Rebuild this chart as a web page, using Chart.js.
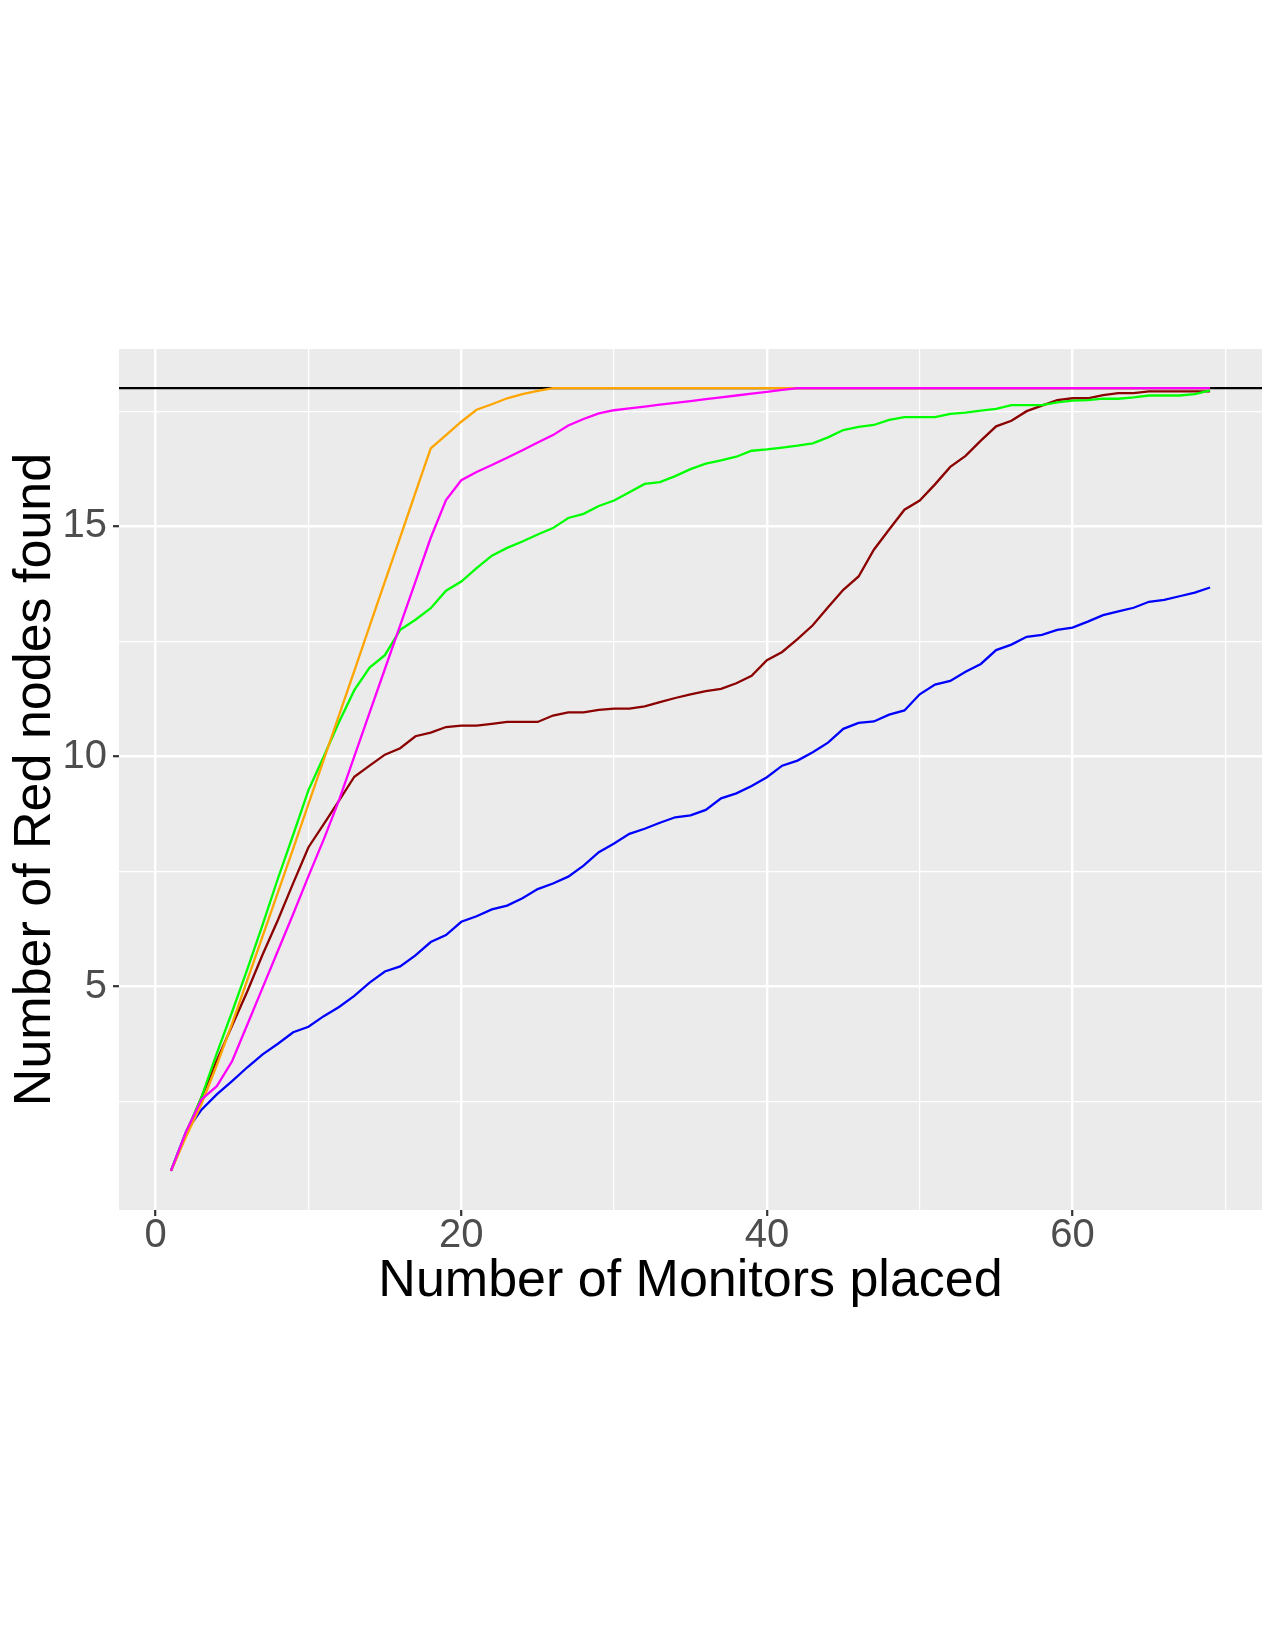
<!DOCTYPE html>
<html>
<head>
<meta charset="utf-8">
<title>Red nodes found vs monitors placed</title>
<script src="https://cdn.jsdelivr.net/npm/chart.js@4/dist/chart.umd.min.js"></script>
<style>
  html, body { margin: 0; padding: 0; background: #ffffff; }
  #wrap { width: 1275px; height: 1650px; }
</style>
</head>
<body>
<div id="wrap"><canvas id="chart" width="1275" height="1650"></canvas></div>
<script>
// values (x = monitors placed 1..69)
const monitors = Array.from({ length: 69 }, (_, i) => i + 1);

const blueSeries = [
  1.00, 1.86, 2.33, 2.66, 2.95, 3.25, 3.53, 3.76, 4.01, 4.13,
  4.36, 4.56, 4.80, 5.09, 5.33, 5.44, 5.68, 5.97, 6.12, 6.41,
  6.53, 6.68, 6.76, 6.92, 7.12, 7.24, 7.39, 7.63, 7.92, 8.11,
  8.32, 8.43, 8.56, 8.68, 8.72, 8.84, 9.09, 9.20, 9.36, 9.55,
  9.80, 9.91, 10.09, 10.30, 10.60, 10.73, 10.76, 10.91, 11.00, 11.35,
  11.56, 11.64, 11.84, 12.01, 12.31, 12.43, 12.60, 12.64, 12.75, 12.80,
  12.93, 13.07, 13.15, 13.23, 13.36, 13.40, 13.48, 13.56, 13.67
];
const darkRedSeries = [
  1.00, 1.80, 2.60, 3.40, 4.15, 4.90, 5.70, 6.45, 7.25, 8.03,
  8.53, 9.04, 9.56, 9.80, 10.04, 10.18, 10.44, 10.52, 10.64, 10.67,
  10.67, 10.71, 10.75, 10.75, 10.75, 10.89, 10.96, 10.96, 11.01, 11.04,
  11.04, 11.09, 11.18, 11.27, 11.35, 11.42, 11.47, 11.59, 11.75, 12.09,
  12.27, 12.55, 12.85, 13.24, 13.62, 13.91, 14.49, 14.93, 15.36, 15.56,
  15.91, 16.29, 16.53, 16.86, 17.17, 17.29, 17.50, 17.62, 17.74, 17.78,
  17.78, 17.85, 17.89, 17.89, 17.93, 17.93, 17.93, 17.93, 17.93
];
const greenSeries = [
  1.00, 1.85, 2.60, 3.55, 4.45, 5.38, 6.35, 7.35, 8.30, 9.27,
  10.00, 10.75, 11.44, 11.93, 12.20, 12.75, 12.97, 13.22, 13.60, 13.80,
  14.09, 14.36, 14.53, 14.67, 14.82, 14.96, 15.18, 15.27, 15.44, 15.56,
  15.74, 15.92, 15.96, 16.09, 16.24, 16.36, 16.43, 16.51, 16.64, 16.67,
  16.71, 16.75, 16.80, 16.93, 17.09, 17.16, 17.20, 17.31, 17.37, 17.37,
  17.37, 17.44, 17.47, 17.51, 17.55, 17.63, 17.63, 17.63, 17.69, 17.73,
  17.74, 17.77, 17.77, 17.80, 17.84, 17.84, 17.84, 17.87, 17.95
];
const orangeSeries = [
  1.00, 1.75, 2.45, 3.30, 4.20, 5.15, 6.10, 7.05, 8.00, 8.97,
  9.93, 10.90, 11.86, 12.83, 13.80, 14.76, 15.73, 16.69, 16.98, 17.27,
  17.53, 17.65, 17.78, 17.87, 17.94, 18, 18, 18, 18, 18,
  18, 18, 18, 18, 18, 18, 18, 18, 18, 18,
  18, 18, 18, 18, 18, 18, 18, 18, 18, 18,
  18, 18, 18, 18, 18, 18, 18, 18, 18, 18,
  18, 18, 18, 18, 18, 18, 18, 18, 18
];
const magentaSeries = [
  1.00, 1.86, 2.55, 2.84, 3.38, 4.18, 4.98, 5.78, 6.58, 7.40,
  8.20, 9.05, 10.00, 10.95, 11.90, 12.85, 13.80, 14.75, 15.57, 16.00,
  16.18, 16.33, 16.49, 16.65, 16.82, 16.98, 17.19, 17.33, 17.45, 17.52,
  17.56, 17.60, 17.64, 17.68, 17.72, 17.76, 17.80, 17.84, 17.88, 17.92,
  17.96, 18, 18, 18, 18, 18, 18, 18, 18, 18,
  18, 18, 18, 18, 18, 18, 18, 18, 18, 18,
  18, 18, 18, 18, 18, 18, 18, 18, 18
];
const totalRedNodes = 18; // horizontal reference line

// axis limits and ticks (ggplot-style major + minor grid)
const xLimits = [-2.4, 72.4];
const yLimits = [0.15, 18.85];
const xMajorTicks = [0, 20, 40, 60];
const xMinorTicks = [10, 30, 50, 70];
const yMajorTicks = [5, 10, 15];
const yMinorTicks = [2.5, 7.5, 12.5, 17.5];

const xTitle = 'Number of Monitors placed';
const yTitle = 'Number of Red nodes found';

;(function () {
  const FONT = '"Liberation Sans", Arial, Helvetica, sans-serif';
  const PANEL = '#EBEBEB';

  function points(ys) { return monitors.map((m, i) => ({ x: m, y: ys[i] })); }
  function series(ys, color) {
    return { data: points(ys), borderColor: color, borderWidth: 2.3, pointRadius: 0, tension: 0, fill: false };
  }
  function setTicks(major, minor) {
    return function (scale) {
      scale.ticks = major.concat(minor).sort((a, b) => a - b).map(v => ({ value: v }));
    };
  }
  function isMajor(list) { return ctx => ctx.tick && list.includes(ctx.tick.value); }

  const panelBg = {
    id: 'panelBg',
    beforeDraw(chart) {
      const { ctx, chartArea: a } = chart;
      ctx.save();
      ctx.fillStyle = '#ffffff';
      ctx.fillRect(0, 0, chart.width, chart.height);
      ctx.fillStyle = PANEL;
      ctx.fillRect(a.left, a.top, a.right - a.left, a.bottom - a.top);
      ctx.restore();
    }
  };

  const xMaj = isMajor(xMajorTicks);
  const yMaj = isMajor(yMajorTicks);

  // dataset 0 is drawn on top in Chart.js
  const datasets = [
    series(magentaSeries, '#FF00FF'),
    series(orangeSeries, '#FFA500'),
    series(greenSeries, '#00FF00'),
    series(darkRedSeries, '#8B0000'),
    series(blueSeries, '#0000FF'),
    {
      data: [{ x: xLimits[0], y: totalRedNodes }, { x: xLimits[1], y: totalRedNodes }],
      borderColor: '#000000', borderWidth: 2.2, pointRadius: 0, fill: false
    }
  ];

  new Chart(document.getElementById('chart').getContext('2d'), {
    type: 'line',
    data: { datasets },
    plugins: [panelBg],
    options: {
      responsive: false,
      animation: false,
      devicePixelRatio: 1,
      layout: { padding: { left: 0, right: 13, top: 349, bottom: 335 } },
      plugins: { legend: { display: false }, tooltip: { enabled: false } },
      scales: {
        x: {
          type: 'linear',
          min: xLimits[0],
          max: xLimits[1],
          afterBuildTicks: setTicks(xMajorTicks, xMinorTicks),
          afterFit(scale) { scale.height = 105; },
          border: { display: false },
          grid: {
            color: '#ffffff',
            lineWidth: ctx => xMaj(ctx) ? 2.4 : 1.2,
            tickColor: ctx => xMaj(ctx) ? '#333333' : 'rgba(0,0,0,0)',
            tickWidth: 2.2,
            tickLength: 6
          },
          ticks: {
            autoSkip: false,
            maxRotation: 0,
            padding: 0,
            color: '#4D4D4D',
            font: { family: FONT, size: 40, lineHeight: 1 },
            callback: v => xMajorTicks.includes(v) ? String(v) : ''
          },
          title: {
            display: true,
            text: xTitle,
            color: '#000000',
            font: { family: FONT, size: 52 },
            padding: { top: 0, bottom: 2 }
          }
        },
        y: {
          type: 'linear',
          min: yLimits[0],
          max: yLimits[1],
          afterBuildTicks: setTicks(yMajorTicks, yMinorTicks),
          afterFit(scale) { scale.width = 119; },
          border: { display: false },
          grid: {
            color: '#ffffff',
            lineWidth: ctx => yMaj(ctx) ? 2.4 : 1.2,
            tickColor: ctx => yMaj(ctx) ? '#333333' : 'rgba(0,0,0,0)',
            tickWidth: 2.2,
            tickLength: 6
          },
          ticks: {
            autoSkip: false,
            padding: 6,
            color: '#4D4D4D',
            font: { family: FONT, size: 40 },
            callback: v => yMajorTicks.includes(v) ? String(v) : ''
          },
          title: {
            display: true,
            text: yTitle,
            color: '#000000',
            font: { family: FONT, size: 52 },
            padding: { top: 4, bottom: 0 }
          }
        }
      }
    }
  });
})();
</script>
</body>
</html>
